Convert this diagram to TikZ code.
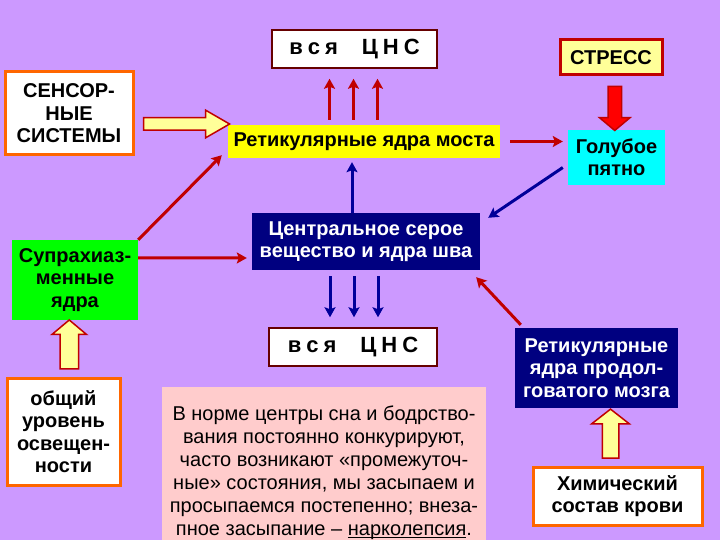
\documentclass[tikz,border=0pt]{standalone}
\usepackage{fontspec}
\setmainfont{Liberation Sans}
\usetikzlibrary{arrows.meta,shapes.arrows,calc}

\definecolor{bglilac}{RGB}{204,153,255}
\definecolor{paleyellow}{RGB}{255,255,153}
\definecolor{boxorange}{RGB}{255,102,0}
\definecolor{arrowred}{RGB}{192,0,0}
\definecolor{brightred}{RGB}{255,0,0}
\definecolor{arrowblue}{RGB}{0,0,153}
\definecolor{cnsmaroon}{RGB}{102,0,0}
\definecolor{notepink}{RGB}{255,204,204}
\definecolor{deepnavy}{RGB}{0,0,128}
\definecolor{ponsyellow}{RGB}{255,255,0}
\definecolor{locuscyan}{RGB}{0,255,255}
\definecolor{scngreen}{RGB}{0,255,0}

% underline sitting close to the baseline
\newcommand{\lowline}[1]{\setbox0\hbox{#1}\rlap{\rule[-2.5pt]{\wd0}{1.2pt}}\box0}

\begin{document}
\begin{tikzpicture}[x=1pt, y=-1pt,
  every node/.style={align=center, inner sep=0pt, font=\bfseries\fontsize{20}{22.5}\selectfont},
  framebox/.style={draw=boxorange, line width=3pt, fill=white},
  cnsbox/.style={draw=cnsmaroon, line width=1.5pt, fill=white, font=\bfseries\fontsize{22}{24}\selectfont},
  redline/.style={draw=arrowred, line width=3pt, -{Stealth[length=10pt, width=11pt, inset=2pt]}},
  blueline/.style={redline, draw=arrowblue},
  fatarrow/.style={single arrow, draw=arrowred, line width=1.5pt, fill=paleyellow, inner xsep=0pt, minimum width=1pt}
]
\fill[bglilac] (0,0) rectangle (720,540);

% Boxes
\node[cnsbox, minimum width=165pt, minimum height=38pt] (cnsTop) at (354.5,49) {в\hspace{5pt}с\hspace{5pt}я\hspace{24pt}Ц\hspace{5pt}Н\hspace{5pt}С};
\node[draw=arrowred, line width=3pt, fill=paleyellow, minimum width=102pt, minimum height=35pt] (stress) at (611,57.5) {СТРЕСС};
\node[framebox, minimum width=128pt, minimum height=83pt] (sensory) at (69,113.5) {СЕНСОР-\\НЫЕ\\СИСТЕМЫ};
\node[fill=ponsyellow, minimum width=272pt, minimum height=33pt] (pons) at (364,141.5) {Ретикулярные ядра моста};
\node[fill=locuscyan, minimum width=97pt, minimum height=55pt] (locus) at (616.5,157.5) {Голубое\\пятно};
\node[fill=deepnavy, text=white, minimum width=228pt, minimum height=57pt] (central) at (366,241.5) {Центральное серое\\вещество и ядра шва};
\node[fill=scngreen, minimum width=126pt, minimum height=80pt] (scn) at (75,280) {Супрахиаз-\\менные\\ядра};
\node[cnsbox, minimum width=168pt, minimum height=38pt] (cnsBot) at (353,347) {в\hspace{5pt}с\hspace{5pt}я\hspace{24pt}Ц\hspace{5pt}Н\hspace{5pt}С};
\node[fill=deepnavy, text=white, minimum width=163pt, minimum height=80pt] (medulla) at (596.5,368) {Ретикулярные\\ядра продол-\\говатого мозга};
\node[framebox, minimum width=113pt, minimum height=107pt] (light) at (63.5,431.5) {общий\\уровень\\освещен-\\ности};
\node[framebox, minimum width=169pt, minimum height=58pt] (chem) at (617.5,496) {Химический\\состав крови};
\node[fill=notepink, minimum width=324pt, minimum height=137pt, font=\fontsize{20}{23}\selectfont] (note) at (324,463.5)
  {\rule{0pt}{33pt}В норме центры сна и бодрство-\\вания постоянно конкурируют,\\часто возникают «промежуточ-\\ные» состояния, мы засыпаем и\\просыпаемся постепенно; внеза-\\пное засыпание -- \lowline{нарколепсия}.};

% Fat arrows
\node[fatarrow, minimum height=86pt, inner ysep=5.5pt, single arrow head extend=7.5pt, single arrow tip angle=60] (senArrow) at ($(sensory.east)!0.5!(pons.west)+(0,-3.5)$) {};
\node[fatarrow, rotate=90, minimum height=49pt, inner ysep=8.5pt, single arrow head extend=8pt, single arrow tip angle=100] (lightArrow) at ($(light.north)!0.5!(scn.south)$) {};
\node[fatarrow, rotate=90, minimum height=49pt, inner ysep=7.5pt, single arrow head extend=10.5pt, single arrow tip angle=104] (chemArrow) at ($(chem.north)!0.5!(medulla.south)+(3.5,0)$) {};
\node[fatarrow, rotate=-90, fill=brightred, minimum height=44pt, inner ysep=6pt, single arrow head extend=8.5pt, single arrow tip angle=100] (stressArrow) at ($(stress.south)!0.5!(locus.north)+(1,2.5)$) {};

% Arrows
\foreach \dx in {-25,-1,23}
  \draw[redline] ([xshift=\dx pt, yshift=5pt]pons.north -| cnsTop.south) -- ([xshift=\dx pt, yshift=-10pt]cnsTop.south);
\foreach \dx in {-23,1,25}
  \draw[blueline] ([xshift=\dx pt, yshift=-6pt]central.south -| cnsBot.north) -- ([xshift=\dx pt, yshift=10pt]cnsBot.north);
\draw[blueline, shorten >=4pt] ([xshift=-14pt]central.north) -- ([xshift=-12pt]pons.south);
\draw[redline, shorten <=10pt, shorten >=5pt] (pons.east) -- (pons.east -| locus.west);
\draw[blueline] ($(locus.west)+(-5,10)$) -- ($(central.north east)+(8,5)$);
\draw[redline] (scn.north east) -- ($(pons.south west)+(-6,-3)$);
\draw[redline] ($(scn.north east)+(0,18)$) -- ($(central.west)+(-5,16.5)$);
\draw[redline] ($(medulla.north west)+(6,-3)$) -- ($(central.south east)+(-4,7)$);
\end{tikzpicture}
\end{document}
